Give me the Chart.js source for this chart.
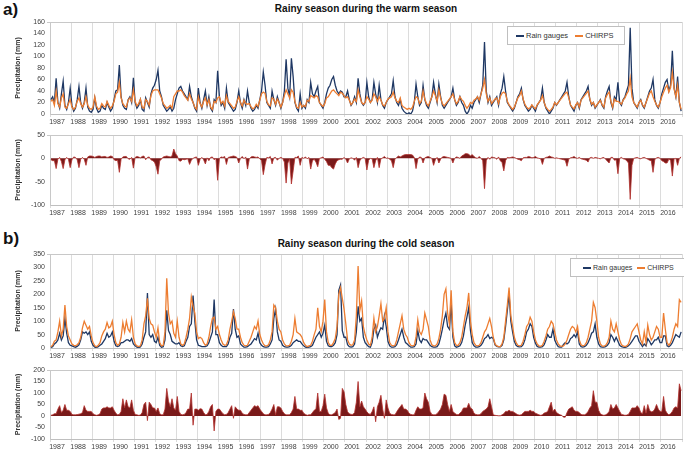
<!DOCTYPE html>
<html>
<head>
<meta charset="utf-8">
<script src="https://cdn.jsdelivr.net/npm/chart.js@4.4.1/dist/chart.umd.min.js"></script>
<style>
  body { margin: 0; background: #fff; font-family: "Liberation Sans", Arial, sans-serif; }
  #page { position: relative; width: 684px; height: 457px; overflow: hidden; }
  .panel { position: absolute; left: 0; width: 684px; }
  .letter { position: absolute; font-weight: bold; font-size: 17px; color: #111; }
  .title { position: absolute; left: 50px; width: 632px; text-align: center; font-weight: bold; font-size: 10px; color: #111; }
  .legend { position: absolute; border: 1px solid #bfbfbf; background: #fff; color: #333;
            display: flex; align-items: center; white-space: nowrap; box-sizing: border-box; }
  .legend span.line { display: inline-block; width: 8px; height: 2px; margin-right: 2px; }
  .legend span.item { display: inline-flex; align-items: center; }
</style>
</head>
<body>
<div id="page">
  <div class="letter" style="left:3px; top:0px;">a)</div>
  <div class="title" style="top:3px;">Rainy season during the warm season</div>
  <div class="panel" style="top:14px; height:112px;"><canvas id="warmMain" width="684" height="112"></canvas></div>
  <div class="panel" style="top:127px; height:90px;"><canvas id="warmDiff" width="684" height="90"></canvas></div>
  <div class="legend" style="left:507px; top:26px; width:118px; height:19px; padding-left:8px; font-size:7.5px;">
    <span class="item" style="margin-right:7px;"><span class="line" style="background:#1f3864"></span>Rain gauges</span>
    <span class="item"><span class="line" style="background:#ed7d31"></span>CHIRPS</span>
  </div>

  <div class="letter" style="left:3px; top:229px;">b)</div>
  <div class="title" style="top:238px;">Rainy season during the cold season</div>
  <div class="panel" style="top:246px; height:114px;"><canvas id="coldMain" width="684" height="114"></canvas></div>
  <div class="panel" style="top:362px; height:89px;"><canvas id="coldDiff" width="684" height="89"></canvas></div>
  <div class="legend" style="left:570px; top:258px; width:120px; height:19px; padding-left:12px; font-size:7px;">
    <span class="item" style="margin-right:5px;"><span class="line" style="background:#1f3864"></span>Rain gauges</span>
    <span class="item"><span class="line" style="background:#ed7d31"></span>CHIRPS</span>
  </div>
</div>
<script>
// --- Tick labels ---
const years = [1987, 1988, 1989, 1990, 1991, 1992, 1993, 1994, 1995, 1996,
               1997, 1998, 1999, 2000, 2001, 2002, 2003, 2004, 2005, 2006,
               2007, 2008, 2009, 2010, 2011, 2012, 2013, 2014, 2015, 2016];

// --- Warm season, monthly (mm), one row per year ---
const warmGauges = [
  [25, 30, 20, 62, 20, 10, 35, 57, 15, 8, 20, 45],
  [15, 5, 10, 25, 48, 20, 10, 20, 45, 12, 5, 3],
  [8, 28, 10, 3, 5, 15, 10, 8, 20, 12, 5, 10],
  [25, 40, 42, 85, 30, 15, 10, 8, 25, 30, 20, 63],
  [20, 10, 15, 25, 8, 5, 28, 20, 12, 35, 45, 50],
  [60, 76, 40, 30, 15, 10, 5, 8, 12, 5, 10, 25],
  [35, 45, 48, 40, 35, 30, 25, 48, 30, 20, 10, 5],
  [45, 20, 10, 25, 40, 15, 30, 10, 5, 25, 20, 75],
  [30, 15, 20, 10, 45, 20, 15, 10, 5, 8, 20, 40],
  [20, 10, 25, 15, 40, 20, 10, 5, 8, 15, 10, 25],
  [40, 73, 50, 20, 15, 10, 40, 25, 15, 30, 20, 10],
  [20, 40, 95, 45, 30, 97, 65, 20, 10, 5, 35, 10],
  [15, 10, 25, 20, 55, 35, 30, 40, 48, 20, 15, 10],
  [20, 35, 45, 50, 60, 65, 50, 40, 35, 40, 38, 30],
  [30, 40, 25, 15, 20, 30, 20, 62, 35, 20, 15, 20],
  [55, 30, 20, 25, 55, 35, 20, 50, 25, 15, 10, 20],
  [25, 30, 35, 58, 30, 20, 15, 25, 10, 5, 2, 0],
  [2, 0, 5, 20, 52, 30, 15, 20, 50, 25, 15, 10],
  [20, 30, 55, 35, 20, 52, 30, 15, 10, 15, 20, 25],
  [30, 45, 25, 15, 20, 30, 20, 15, 5, 0, 5, 15],
  [10, 20, 25, 30, 20, 35, 50, 125, 40, 20, 30, 15],
  [20, 25, 30, 15, 35, 45, 65, 40, 20, 15, 10, 5],
  [10, 20, 30, 35, 45, 25, 15, 10, 5, 8, 15, 10],
  [5, 15, 20, 25, 45, 20, 10, 5, 0, 5, 10, 20],
  [15, 20, 25, 30, 35, 40, 55, 30, 15, 10, 5, 15],
  [20, 10, 25, 30, 35, 40, 48, 25, 15, 20, 10, 15],
  [20, 25, 15, 10, 30, 40, 48, 20, 10, 30, 25, 55],
  [20, 15, 25, 30, 40, 50, 150, 45, 20, 15, 10, 20],
  [25, 15, 10, 20, 30, 40, 45, 60, 25, 15, 10, 20],
  [35, 45, 55, 60, 40, 50, 110, 45, 30, 65, 20, 5]
].flat();

const warmChirps = [
  [22, 25, 15, 40, 18, 12, 28, 35, 12, 10, 18, 25],
  [12, 8, 12, 22, 28, 18, 12, 18, 30, 15, 10, 8],
  [12, 30, 14, 8, 10, 18, 14, 12, 22, 15, 10, 14],
  [22, 35, 38, 55, 28, 18, 14, 12, 24, 28, 22, 42],
  [22, 14, 18, 26, 12, 10, 25, 22, 15, 32, 40, 42],
  [42, 42, 35, 28, 18, 14, 10, 12, 15, 10, 30, 35],
  [40, 40, 42, 38, 32, 28, 24, 35, 26, 20, 12, 8],
  [30, 18, 12, 22, 28, 16, 25, 12, 8, 22, 20, 28],
  [30, 18, 22, 14, 32, 22, 18, 14, 10, 12, 22, 30],
  [20, 14, 24, 18, 17, 18, 13, 9, 11, 17, 13, 24],
  [35, 38, 36, 22, 16, 14, 28, 26, 17, 26, 20, 12],
  [20, 32, 42, 35, 28, 42, 38, 22, 12, 10, 20, 12],
  [15, 13, 24, 22, 32, 30, 28, 32, 30, 20, 16, 13],
  [18, 28, 30, 35, 40, 42, 38, 35, 32, 38, 36, 32],
  [28, 30, 24, 16, 20, 26, 22, 42, 30, 20, 17, 20],
  [30, 26, 20, 24, 35, 30, 22, 30, 24, 16, 14, 20],
  [26, 28, 30, 38, 28, 22, 20, 28, 15, 12, 10, 8],
  [10, 8, 12, 22, 30, 28, 18, 22, 40, 26, 18, 14],
  [22, 30, 40, 32, 22, 42, 28, 18, 14, 18, 22, 26],
  [30, 35, 25, 18, 22, 30, 25, 22, 15, 10, 14, 20],
  [18, 24, 26, 30, 24, 35, 45, 60, 35, 22, 28, 18],
  [22, 26, 28, 18, 30, 36, 38, 35, 22, 16, 12, 8],
  [12, 20, 28, 32, 40, 26, 17, 12, 9, 11, 16, 12],
  [9, 16, 20, 24, 32, 20, 12, 8, 5, 8, 12, 20],
  [16, 20, 24, 28, 32, 36, 38, 28, 16, 12, 9, 16],
  [20, 12, 24, 28, 32, 36, 40, 26, 17, 20, 12, 16],
  [20, 24, 16, 12, 28, 34, 38, 22, 12, 26, 22, 22],
  [20, 17, 24, 28, 35, 40, 62, 30, 20, 16, 12, 20],
  [24, 16, 12, 20, 28, 36, 40, 30, 22, 16, 12, 20],
  [30, 38, 45, 50, 38, 46, 72, 44, 30, 50, 20, 8]
].flat();

// --- Cold season, monthly (mm), one row per year ---
const coldGauges = [
  [2, 5, 15, 20, 30, 55, 30, 45, 110, 55, 20, 10],
  [8, 5, 3, 6, 12, 30, 60, 55, 60, 50, 60, 25],
  [10, 3, 2, 5, 10, 15, 25, 35, 55, 40, 45, 60],
  [25, 8, 5, 8, 20, 20, 25, 30, 30, 25, 35, 15],
  [8, 3, 2, 4, 15, 40, 60, 205, 50, 40, 50, 25],
  [20, 40, 10, 3, 5, 30, 140, 65, 50, 25, 20, 15],
  [15, 20, 8, 5, 8, 25, 40, 80, 90, 195, 100, 30],
  [10, 8, 5, 5, 5, 8, 20, 40, 60, 180, 50, 50],
  [20, 10, 5, 5, 5, 15, 40, 55, 145, 70, 40, 45],
  [15, 8, 3, 3, 5, 10, 15, 25, 35, 30, 55, 20],
  [10, 5, 3, 3, 5, 15, 30, 110, 145, 60, 30, 25],
  [10, 5, 3, 3, 5, 10, 20, 25, 30, 25, 25, 15],
  [8, 3, 2, 3, 5, 10, 25, 40, 50, 60, 40, 55],
  [85, 25, 8, 5, 5, 10, 20, 50, 215, 235, 65, 40],
  [40, 12, 5, 3, 5, 15, 60, 155, 100, 110, 40, 20],
  [12, 5, 3, 20, 70, 85, 40, 60, 75, 70, 120, 80],
  [25, 8, 3, 3, 5, 12, 30, 50, 70, 40, 20, 15],
  [8, 3, 3, 5, 15, 65, 30, 20, 35, 30, 30, 20],
  [10, 5, 3, 3, 5, 15, 40, 70, 105, 130, 80, 70],
  [165, 40, 8, 3, 5, 8, 20, 45, 85, 115, 150, 65],
  [20, 8, 3, 3, 5, 10, 20, 35, 40, 50, 35, 40],
  [35, 12, 6, 4, 4, 10, 30, 80, 140, 200, 100, 60],
  [25, 10, 5, 4, 5, 12, 30, 60, 70, 90, 80, 40],
  [18, 6, 3, 3, 5, 12, 30, 50, 40, 40, 70, 30],
  [15, 5, 3, 3, 13, 20, 15, 20, 35, 40, 50, 40],
  [60, 15, 5, 3, 5, 10, 20, 35, 55, 60, 90, 40],
  [15, 5, 3, 3, 5, 10, 20, 50, 40, 25, 40, 25],
  [10, 5, 3, 2, 4, 8, 15, 25, 35, 45, 45, 25],
  [15, 5, 15, 8, 35, 25, 12, 20, 30, 30, 40, 20],
  [20, 45, 45, 8, 5, 10, 20, 35, 50, 45, 40, 60]
].flat();

const coldChirps = [
  [5, 10, 25, 30, 60, 100, 45, 70, 160, 80, 45, 30],
  [15, 10, 8, 12, 20, 40, 75, 100, 85, 70, 80, 45],
  [20, 8, 5, 10, 20, 45, 60, 70, 95, 75, 80, 100],
  [50, 20, 10, 15, 40, 95, 60, 100, 70, 60, 105, 40],
  [15, 8, 5, 8, 30, 90, 120, 185, 110, 90, 85, 60],
  [40, 75, 20, 8, 10, 60, 260, 130, 90, 100, 55, 40],
  [100, 40, 15, 10, 15, 40, 70, 110, 190, 155, 130, 60],
  [35, 40, 35, 20, 10, 15, 40, 80, 110, 115, 70, 80],
  [50, 30, 15, 10, 12, 30, 70, 100, 135, 110, 70, 70],
  [40, 20, 10, 8, 10, 25, 40, 60, 80, 70, 100, 50],
  [30, 15, 8, 8, 12, 30, 60, 160, 150, 100, 70, 60],
  [30, 15, 8, 8, 10, 25, 50, 110, 60, 55, 50, 40],
  [20, 10, 5, 8, 10, 25, 50, 70, 150, 80, 60, 100],
  [180, 60, 20, 10, 10, 20, 35, 80, 200, 225, 185, 145],
  [90, 30, 15, 10, 12, 30, 120, 305, 140, 175, 80, 50],
  [30, 15, 10, 40, 110, 60, 80, 120, 165, 100, 110, 150],
  [60, 20, 10, 8, 10, 30, 60, 90, 120, 70, 50, 40],
  [20, 10, 8, 10, 40, 105, 60, 50, 70, 130, 105, 80],
  [30, 12, 8, 8, 15, 35, 70, 120, 200, 220, 130, 90],
  [215, 60, 20, 10, 10, 20, 40, 80, 120, 150, 205, 100],
  [50, 20, 10, 8, 10, 20, 40, 60, 70, 90, 110, 80],
  [40, 15, 8, 5, 5, 15, 40, 100, 160, 225, 120, 80],
  [40, 20, 10, 8, 10, 25, 50, 80, 90, 115, 100, 60],
  [30, 15, 8, 6, 10, 25, 45, 70, 80, 100, 90, 60],
  [30, 15, 8, 6, 8, 15, 30, 50, 70, 80, 75, 60],
  [80, 30, 12, 8, 10, 20, 40, 70, 100, 170, 150, 100],
  [40, 15, 8, 6, 10, 20, 40, 100, 70, 60, 90, 60],
  [30, 12, 8, 5, 8, 15, 35, 60, 70, 80, 90, 60],
  [30, 15, 60, 20, 85, 50, 30, 40, 60, 80, 70, 40],
  [40, 130, 70, 20, 10, 20, 40, 70, 90, 80, 180, 170]
].flat();

// CHIRPS minus rain gauges, as plotted in the lower panels
const warmDiff = warmChirps.map((v, i) => v - warmGauges[i]);
const coldDiff = coldChirps.map((v, i) => v - coldGauges[i]);

// month positions (centre of each month on a 0..360 axis)
const monthPos = warmGauges.map((_, i) => i + 0.5);

const NAVY   = "#1f3864";
const ORANGE = "#ed7d31";

Chart.defaults.font.family = "'Liberation Sans', Arial, sans-serif";
Chart.defaults.color = "#404040";

// --- Chart helpers ---
function panelOptions(yMin, yMax, step) {
  return {
    responsive: false,
    animation: false,
    layout: { padding: { left: 14, right: 2, top: 8, bottom: 0 } },
    plugins: { legend: { display: false }, tooltip: { enabled: false } },
    elements: { point: { radius: 0 }, line: { tension: 0 } },
    scales: {
      x: {
        type: "linear", min: 0, max: 360,
        afterBuildTicks: ax => { ax.ticks = years.map((y, i) => ({ value: i * 12 })).concat([{ value: 360 }]); },
        afterFit: ax => { ax.height = 12; },
        ticks: {
          autoSkip: false, maxRotation: 0, labelOffset: 7, padding: 1,
          font: { size: 7 }, color: "#404040",
          callback: v => (v / 12 < years.length ? String(years[v / 12]) : "")
        },
        grid: { color: "#dcdcdc", lineWidth: 1, tickLength: 3 },
        border: { color: "#bfbfbf" }
      },
      y: {
        min: yMin, max: yMax,
        afterFit: ax => { ax.width = 36; },
        ticks: { stepSize: step, font: { size: 7 }, color: "#404040", padding: 2 },
        grid: { color: c => (c.tick.value === yMax ? "#c8c8c8" : "rgba(0,0,0,0)"), tickLength: 3 },
        border: { color: "#c8c8c8" },
        title: { display: true, text: "Precipitation (mm)", font: { size: 7, weight: "bold" }, color: "#333", padding: 0 }
      }
    }
  };
}

function buildMain(id, gauges, chirps, yMax, step) {
  new Chart(document.getElementById(id), {
    type: "line",
    data: {
      labels: monthPos,
      datasets: [
        { label: "CHIRPS", data: chirps, borderColor: ORANGE, borderWidth: 1.3, fill: false },
        { label: "Rain gauges", data: gauges, borderColor: NAVY, borderWidth: 1.3, fill: false }
      ]
    },
    options: panelOptions(0, yMax, step)
  });
}

function buildDiff(id, diff, yMin, yMax, step) {
  new Chart(document.getElementById(id), {
    type: "line",
    data: {
      labels: monthPos,
      datasets: [{
        label: "Difference", data: diff,
        borderColor: "#b3302c", borderWidth: 0.8,
        backgroundColor: "#7a1a1a", fill: "origin"
      }]
    },
    options: panelOptions(yMin, yMax, step)
  });
}

buildMain("warmMain", warmGauges, warmChirps, 160, 20);
buildDiff("warmDiff", warmDiff, -100, 50, 50);
buildMain("coldMain", coldGauges, coldChirps, 350, 50);
buildDiff("coldDiff", coldDiff, -100, 200, 50);
</script>
</body>
</html>
